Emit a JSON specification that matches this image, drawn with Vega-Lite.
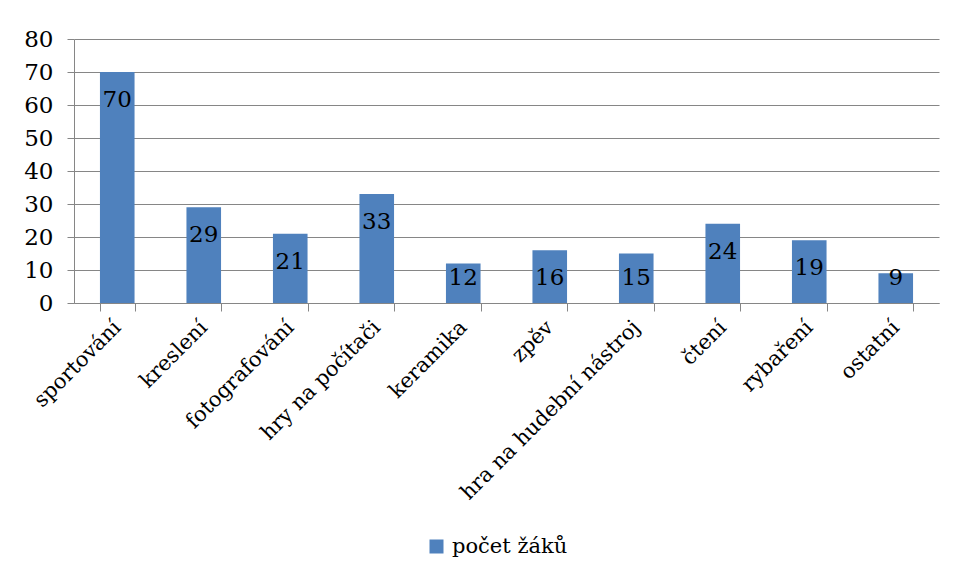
{
  "$schema": "https://vega.github.io/schema/vega-lite/v6.json",
  "autosize": "none",
  "width": 865,
  "height": 264,
  "padding": {"left": 74, "top": 39, "right": 16, "bottom": 275},
  "background": "white",
  "data": {
    "values": [
      {"cinnost": "sportování", "pocet": 70, "serie": "počet žáků"},
      {"cinnost": "kreslení", "pocet": 29, "serie": "počet žáků"},
      {"cinnost": "fotografování", "pocet": 21, "serie": "počet žáků"},
      {"cinnost": "hry na počítači", "pocet": 33, "serie": "počet žáků"},
      {"cinnost": "keramika", "pocet": 12, "serie": "počet žáků"},
      {"cinnost": "zpěv", "pocet": 16, "serie": "počet žáků"},
      {"cinnost": "hra na hudební nástroj", "pocet": 15, "serie": "počet žáků"},
      {"cinnost": "čtení", "pocet": 24, "serie": "počet žáků"},
      {"cinnost": "rybaření", "pocet": 19, "serie": "počet žáků"},
      {"cinnost": "ostatní", "pocet": 9, "serie": "počet žáků"}
    ]
  },
  "encoding": {
    "x": {
      "field": "cinnost",
      "type": "nominal",
      "sort": null,
      "title": null,
      "scale": {"paddingInner": 0.6, "paddingOuter": 0.3},
      "axis": {
        "labelAngle": -45,
        "labelAlign": "right",
        "labelBaseline": "middle",
        "labelPadding": 13,
        "labelFont": "DejaVu Serif",
        "labelFontSize": 21,
        "labelColor": "black",
        "labelLimit": 400,
        "tickBand": "extent",
        "tickSize": 8,
        "tickColor": "#868686",
        "domainColor": "#868686",
        "grid": false
      }
    }
  },
  "layer": [
    {
      "mark": {"type": "bar", "color": "#4F81BD"},
      "encoding": {
        "y": {
          "field": "pocet",
          "type": "quantitative",
          "title": null,
          "scale": {"domain": [0, 80], "nice": false},
          "axis": {
            "values": [0, 10, 20, 30, 40, 50, 60, 70, 80],
            "labelFont": "DejaVu Serif",
            "labelFontSize": 23,
            "labelColor": "black",
            "labelPadding": 14,
            "tickSize": 7,
            "tickColor": "#868686",
            "domainColor": "#868686",
            "gridColor": "#868686",
            "gridOpacity": 1
          }
        },
        "color": {
          "field": "serie",
          "type": "nominal",
          "title": null,
          "scale": {"range": ["#4F81BD"]},
          "legend": {
            "orient": "none",
            "legendX": 352,
            "legendY": 497,
            "padding": 0,
            "symbolType": "square",
            "symbolSize": 196,
            "symbolStrokeWidth": 0,
            "symbolOffset": 0,
            "labelFont": "DejaVu Serif",
            "labelFontSize": 21,
            "labelColor": "black",
            "labelOffset": 5,
            "labelLimit": 300
          }
        }
      }
    },
    {
      "mark": {
        "type": "text",
        "baseline": "middle",
        "dy": 28,
        "font": "DejaVu Serif",
        "fontSize": 23,
        "color": "black"
      },
      "encoding": {
        "y": {
          "field": "pocet",
          "type": "quantitative",
          "scale": {"domain": [16, 80], "range": [211.2, 0], "clamp": true, "nice": false, "zero": false},
          "axis": null
        },
        "text": {"field": "pocet", "type": "quantitative"}
      }
    }
  ],
  "resolve": {"scale": {"y": "independent"}},
  "config": {"view": {"stroke": null}}
}
